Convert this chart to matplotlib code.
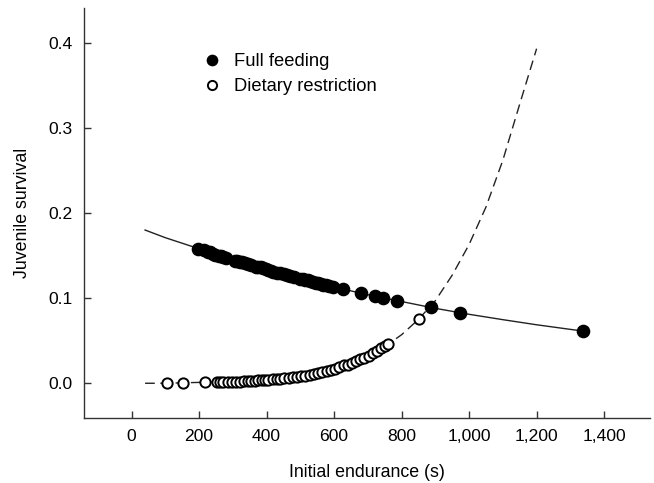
import matplotlib.pyplot as plt
from matplotlib.lines import Line2D
from matplotlib.ticker import FuncFormatter

plt.rcParams['font.family'] = ['Liberation Sans', 'DejaVu Sans']

# Full feeding: observed points
full_x = [197, 215, 225, 232, 240, 248, 258, 265, 272, 280, 305, 312, 320, 328,
          335, 345, 355, 368, 375, 382, 390, 398, 405, 412, 420, 430, 440, 452,
          460, 470, 480, 500, 508, 515, 522, 530, 538, 545, 552, 560, 568, 575,
          585, 597, 626, 681, 721, 745, 785, 886, 973, 1336]
full_y = [0.158, 0.156, 0.154, 0.154, 0.152, 0.151, 0.150, 0.149, 0.148, 0.147,
          0.144, 0.144, 0.143, 0.142, 0.141, 0.140, 0.139, 0.137, 0.136, 0.136,
          0.135, 0.134, 0.133, 0.132, 0.131, 0.130, 0.129, 0.128, 0.127, 0.126,
          0.125, 0.123, 0.122, 0.121, 0.121, 0.120, 0.119, 0.118, 0.118, 0.117,
          0.116, 0.115, 0.114, 0.113, 0.111, 0.106, 0.102, 0.100, 0.097, 0.089,
          0.083, 0.061]

# Full feeding: fitted curve
full_fit_x = [40, 100, 200, 300, 400, 500, 600, 700, 800, 900, 1000, 1100, 1200, 1300, 1350]
full_fit_y = [0.180, 0.171, 0.158, 0.145, 0.1335, 0.123, 0.113, 0.104, 0.096, 0.088,
              0.081, 0.0747, 0.0687, 0.0633, 0.0607]

# Dietary restriction: observed points
dr_x = [104, 153, 217, 252, 262, 272, 285, 298, 310, 320, 332, 345, 355, 365, 375,
        385, 395, 405, 418, 430, 440, 452, 465, 478, 490, 502, 515, 528, 540, 552,
        565, 578, 590, 602, 615, 628, 640, 652, 665, 678, 690, 702, 715, 728, 740,
        752, 760, 851]
dr_y = [0.000, 0.000, 0.001, 0.001, 0.001, 0.001, 0.002, 0.002, 0.002, 0.002,
        0.003, 0.003, 0.003, 0.003, 0.004, 0.004, 0.004, 0.004, 0.005, 0.005,
        0.005, 0.006, 0.006, 0.007, 0.007, 0.008, 0.009, 0.010, 0.011, 0.012,
        0.013, 0.014, 0.016, 0.017, 0.019, 0.021, 0.022, 0.024, 0.026, 0.028,
        0.030, 0.032, 0.035, 0.038, 0.041, 0.044, 0.046, 0.076]

# Dietary restriction: fitted curve
dr_fit_x = [40, 100, 200, 300, 400, 450, 500, 550, 600, 650, 700, 750, 800, 850,
            900, 950, 1000, 1050, 1100, 1150, 1200]
dr_fit_y = [0.000, 0.000, 0.001, 0.002, 0.004, 0.005, 0.008, 0.011, 0.016, 0.023,
            0.031, 0.043, 0.057, 0.075, 0.097, 0.127, 0.163, 0.207, 0.262, 0.328, 0.393]

fig = plt.figure(figsize=(6.54, 4.83), dpi=100)
ax = fig.add_axes([0.1284, 0.1346, 0.8655, 0.8488])

ax.plot(full_fit_x, full_fit_y, color='#222222', linewidth=1.0, zorder=1)
ax.plot(dr_fit_x, dr_fit_y, color='#222222', linewidth=1.0, dashes=(7, 4), zorder=1)

ax.plot(dr_x, dr_y, linestyle='none', marker='o', markersize=7.4,
        markerfacecolor='white', markeredgecolor='black', markeredgewidth=1.4, zorder=3)
ax.plot(full_x, full_y, linestyle='none', marker='o', markersize=8.8,
        markerfacecolor='black', markeredgecolor='black', zorder=2)

ax.set_xlim(-141, 1536)
ax.set_ylim(-0.0408, 0.4408)
ax.set_xticks([0, 200, 400, 600, 800, 1000, 1200, 1400])
ax.set_yticks([0.0, 0.1, 0.2, 0.3, 0.4])
ax.xaxis.set_major_formatter(FuncFormatter(lambda v, p: f"{int(v):,}"))
ax.yaxis.set_major_formatter(FuncFormatter(lambda v, p: f"{v:.1f}"))

for side in ['top', 'right']:
    ax.spines[side].set_visible(False)
for side in ['left', 'bottom']:
    ax.spines[side].set_color('#333333')
    ax.spines[side].set_linewidth(1.0)

ax.tick_params(direction='in', length=5, width=1, color='#333333', labelsize=12.6)
ax.tick_params(axis='x', pad=8)
ax.tick_params(axis='y', pad=8)

ax.set_xlabel("Initial endurance (s)", fontsize=12.8, labelpad=14)
ax.set_ylabel("Juvenile survival", fontsize=12.8, labelpad=13)

handles = [
    Line2D([], [], linestyle='none', marker='o', markersize=7.4,
           markerfacecolor='black', markeredgecolor='black'),
    Line2D([], [], linestyle='none', marker='o', markersize=6.6,
           markerfacecolor='white', markeredgecolor='black', markeredgewidth=1.4),
]
ax.legend(handles, ["Full feeding", "Dietary restriction"], loc='upper left',
          bbox_to_anchor=(0.18, 0.93), frameon=False, fontsize=13.2,
          handletextpad=0.75, labelspacing=0.45, handlelength=1.0)

fig.savefig("out.png", dpi=100)
